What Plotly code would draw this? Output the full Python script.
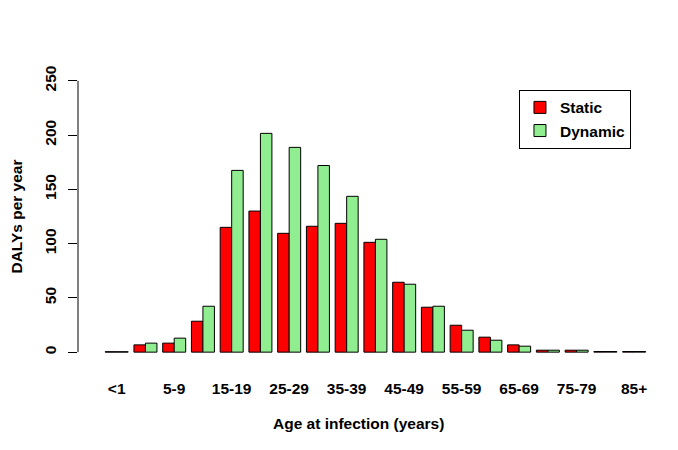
import plotly.graph_objects as go

categories = ["<1", "1-4", "5-9", "10-14", "15-19", "20-24", "25-29", "30-34", "35-39",
              "40-44", "45-49", "50-54", "55-59", "60-64", "65-69", "70-74", "75-79",
              "80-84", "85+"]
static_vals = [0.4, 6.7, 8.3, 28.5, 115, 130, 109.5, 116, 118.7, 101.2, 64.4, 41.4,
               24.8, 13.8, 6.7, 1.8, 1.8, 0.6, 0.6]
dynamic_vals = [0.4, 8.3, 12.9, 42.3, 167.5, 201.6, 188.7, 172, 143.6, 104, 62.6, 42.3,
                20.2, 11.0, 5.5, 1.8, 1.8, 0.6, 0.6]
tick_labels = categories[::2]
y_ticks = [0, 50, 100, 150, 200, 250]

FONT = "Liberation Sans, Arial, sans-serif"
FS = 15.5

fig = go.Figure()
fig.add_trace(go.Bar(x=categories, y=static_vals, name="Static",
                     marker=dict(color="#FF0000", line=dict(color="black", width=1))))
fig.add_trace(go.Bar(x=categories, y=dynamic_vals, name="Dynamic",
                     marker=dict(color="#90EE90", line=dict(color="black", width=1))))

fig.update_layout(
    width=678, height=450,
    margin=dict(l=70, r=26, t=62, b=95, autoexpand=False),
    paper_bgcolor="white", plot_bgcolor="white",
    barmode="group", bargap=0.2, bargroupgap=0,
    font=dict(family=FONT, size=FS, color="black", weight="bold"),
    showlegend=True,
    legend=dict(x=0.7577, y=0.9324, xanchor="left", yanchor="top",
                bordercolor="black", borderwidth=1, bgcolor="white",
                font=dict(size=FS, weight="bold"), tracegroupgap=0),
    xaxis=dict(type="category", range=[-1.346, 18.9], tickmode="array",
               tickvals=tick_labels, ticktext=tick_labels, automargin=False,
               ticks="outside", ticklen=11, tickcolor="rgba(0,0,0,0)",
               showline=False, showgrid=False, zeroline=False),
    yaxis=dict(range=[-10, 260], tickmode="array", tickvals=y_ticks, automargin=False,
               ticks="outside", ticklen=9, tickwidth=1, tickcolor="black",
               tickangle=-90, ticklabelstandoff=6,
               showline=False, showgrid=False, zeroline=False,
               title=dict(text="DALYs per year", standoff=16,
                          font=dict(size=FS, weight="bold"))),
    shapes=[dict(type="line", xref="paper", yref="y", x0=0, x1=0, y0=0, y1=250,
                 line=dict(color="black", width=1))],
    annotations=[dict(text="Age at infection (years)", xref="paper", yref="paper",
                      x=0.4811, y=-0.208, xanchor="center", yanchor="middle",
                      showarrow=False, font=dict(size=FS, weight="bold"))],
)

fig.write_html("out.html")
